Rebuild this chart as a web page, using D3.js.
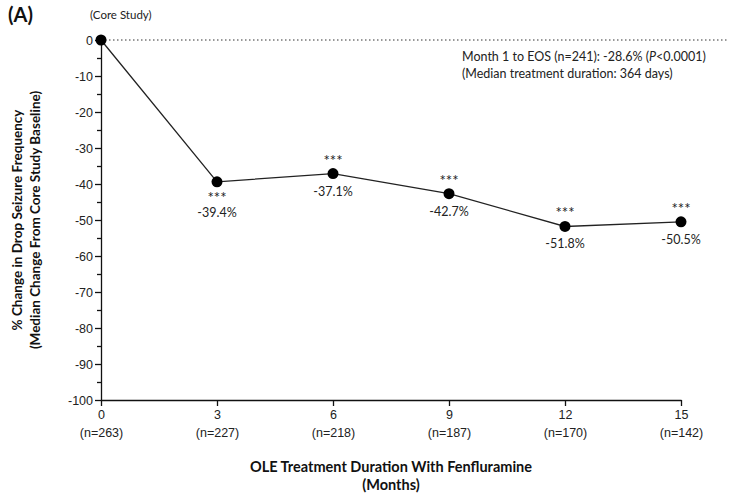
<!DOCTYPE html>
<html>
<head>
<meta charset="utf-8">
<script src="https://cdn.jsdelivr.net/npm/d3@7"></script>
<style>
  body { margin: 0; background: #fff; }
  svg { font-family: Lato, "Open Sans", sans-serif; }
  .axis text { font-size: 12.5px; fill: #222; }
  .axis path, .axis line { stroke: #111; stroke-width: 1.3; }
</style>
</head>
<body>
<div id="chart"></div>
<script>
// data
const months = [0, 3, 6, 9, 12, 15];
const nCounts = ["n=263", "n=227", "n=218", "n=187", "n=170", "n=142"];
const medianChange = [0, -39.4, -37.1, -42.7, -51.8, -50.5];
const valueLabels = ["", "-39.4%", "-37.1%", "-42.7%", "-51.8%", "-50.5%"];
const starsAbove = [null, false, true, true, true, true];
const yTicks = [0, -10, -20, -30, -40, -50, -60, -70, -80, -90, -100];

const W = 730, H = 495;
const margin = {top: 40, right: 49, bottom: 95, left: 101};
const width = W - margin.left - margin.right;
const height = H - margin.top - margin.bottom;

const svg = d3.select("#chart").append("svg")
    .attr("width", W).attr("height", H);

const g = svg.append("g")
    .attr("transform", `translate(${margin.left},${margin.top})`);

const x = d3.scaleLinear().domain([0, 15]).range([0, width]);
const y = d3.scaleLinear().domain([-100, 0]).range([height, 0]);

// zero reference line (dotted)
g.append("line")
    .attr("x1", x(0)).attr("x2", W - margin.left - 2)
    .attr("y1", y(0)).attr("y2", y(0))
    .attr("stroke", "#333").attr("stroke-width", 1)
    .attr("stroke-dasharray", "1.5,2.5");

// y axis with minor ticks
g.append("g").attr("class", "axis")
    .call(d3.axisLeft(y).tickValues(d3.range(-95, 0, 10)).tickSize(4).tickFormat(""))
    .call(a => a.select(".domain").remove());
g.append("g").attr("class", "axis")
    .call(d3.axisLeft(y).tickValues(yTicks).tickSize(6).tickPadding(2).tickSizeOuter(0)
      .tickFormat(d => String(d)));

// x axis
const xAxis = g.append("g").attr("class", "axis")
    .attr("transform", `translate(0,${height})`)
    .call(d3.axisBottom(x).tickValues(months).tickSize(6).tickPadding(4).tickSizeOuter(0)
      .tickFormat(d => String(d)));
xAxis.selectAll(".tick").append("text")
    .attr("y", 28).attr("dy", "0.71em")
    .attr("fill", "#222").style("font-size", "12.5px")
    .text((d, i) => `(${nCounts[i]})`);

// line
const line = d3.line().x(d => x(d[0])).y(d => y(d[1]));
const pts = months.map((m, i) => [m, medianChange[i]]);
g.append("path").datum(pts)
    .attr("fill", "none").attr("stroke", "#222").attr("stroke-width", 1.3)
    .attr("d", line);

g.selectAll("circle.pt").data(pts).enter().append("circle")
    .attr("class", "pt")
    .attr("cx", d => x(d[0])).attr("cy", d => y(d[1]))
    .attr("r", 5.5).attr("fill", "#000");

// stars and value labels
function label(px, py, txt, size) {
  g.append("text").attr("x", px).attr("y", py)
    .attr("text-anchor", "middle").style("font-size", size).attr("fill", "#222")
    .text(txt);
}
pts.forEach((d, i) => {
  if (i === 0) return;
  const cx = x(d[0]), cy = y(d[1]);
  if (starsAbove[i]) {
    label(cx, cy - 8, "***", "15px");
    label(cx, cy + 22, valueLabels[i], "12.5px");
  } else {
    label(cx, cy + 21, "***", "15px");
    label(cx, cy + 35, valueLabels[i], "12.5px");
  }
});

// annotation
const ann = g.append("text").attr("x", 361).attr("y", 21)
    .style("font-size", "12.5px").attr("fill", "#222");
ann.append("tspan").text("Month 1 to EOS (n=241): -28.6% (");
ann.append("tspan").attr("font-style", "italic").style("font-style", "italic").text("P");
ann.append("tspan").text("<0.0001)");
g.append("text").attr("x", 361).attr("y", 38)
    .style("font-size", "12.5px").attr("fill", "#222")
    .text("(Median treatment duration: 364 days)");

// panel label and core study
svg.append("text").attr("x", 8).attr("y", 22)
    .style("font-size", "20px").style("font-weight", "bold").attr("fill", "#111")
    .text("(A)");
svg.append("text").attr("x", 90).attr("y", 19)
    .style("font-size", "11.5px").attr("fill", "#222")
    .text("(Core Study)");

// y axis titles
const ytitle = svg.append("g").attr("transform", `translate(0,${margin.top + height / 2})`);
ytitle.append("text").attr("transform", "rotate(-90)")
    .attr("x", 0).attr("y", 22).attr("text-anchor", "middle")
    .style("font-size", "13.5px").style("font-weight", "bold").attr("fill", "#111")
    .text("% Change in Drop Seizure Frequency");
ytitle.append("text").attr("transform", "rotate(-90)")
    .attr("x", 0).attr("y", 40).attr("text-anchor", "middle")
    .style("font-size", "13.5px").style("font-weight", "bold").attr("fill", "#111")
    .text("(Median Change From Core Study Baseline)");

// x axis titles
svg.append("text").attr("x", 391).attr("y", 472)
    .attr("text-anchor", "middle")
    .style("font-size", "14.5px").style("font-weight", "bold").attr("fill", "#111")
    .text("OLE Treatment Duration With Fenfluramine");
svg.append("text").attr("x", 391).attr("y", 490)
    .attr("text-anchor", "middle")
    .style("font-size", "14.5px").style("font-weight", "bold").attr("fill", "#111")
    .text("(Months)");
</script>
</body>
</html>
